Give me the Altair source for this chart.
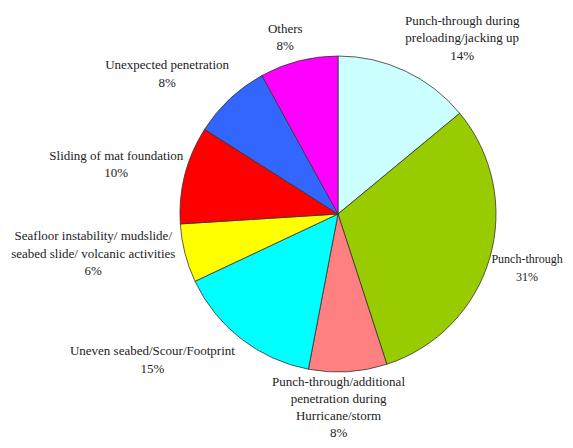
import altair as alt
import pandas as pd

categories = [
    "Punch-through during preloading/jacking up",
    "Punch-through",
    "Punch-through/additional penetration during Hurricane/storm",
    "Uneven seabed/Scour/Footprint",
    "Seafloor instability/ mudslide/ seabed slide/ volcanic activities",
    "Sliding of mat foundation",
    "Unexpected penetration",
    "Others",
]
label_text = [
    "Punch-through during\npreloading/jacking up",
    "Punch-through",
    "Punch-through/additional\npenetration during\nHurricane/storm",
    "Uneven seabed/Scour/Footprint",
    "Seafloor instability/ mudslide/\nseabed slide/ volcanic activities",
    "Sliding of mat foundation",
    "Unexpected penetration",
    "Others",
]
shares = [14, 31, 8, 15, 6, 10, 8, 8]
colors = ["#CCFFFF", "#99CC00", "#FF8080", "#00FFFF", "#FFFF00", "#FF0000", "#3366FF", "#FF00FF"]

df = pd.DataFrame({
    "idx": list(range(len(categories))),
    "category": categories,
    "share": shares,
    "label": [f"{t}\n{v}%" for t, v in zip(label_text, shares)],
})

theta = alt.Theta("share:Q", stack=True, scale=alt.Scale(domain=[0, 100]))
order = alt.Order("idx:Q", sort="ascending")

CX, CY = 330, 206
pie = alt.Chart(df).mark_arc(outerRadius=158, stroke="#333333", strokeWidth=0.8).encode(
    theta=theta,
    order=order,
    color=alt.Color("category:N", scale=alt.Scale(domain=categories, range=colors), legend=None),
    x=alt.value(CX),
    y=alt.value(CY),
)

LH = 17.5
# label nudges (dx, dy, line height, font size) of the block centre from the slice-midpoint anchor
nudges = [(39, 5, LH, 13), (-3, -2, LH, 12), (-12, -6, 17, 13), (-63, -12, LH, 13),
          (-51, -10, LH, 13), (-28, 0, LH, 13), (-34, 6, LH, 13), (-3, 17, LH, 13)]

texts = []
for i, (ddx, ddy, lh, fs) in enumerate(nudges):
    n_lines = df["label"][i].count("\n") + 1
    t = alt.Chart(df).mark_text(
        radius=200, dx=ddx, dy=ddy - (n_lines - 1) * lh / 2, lineBreak="\n",
        font="Liberation Serif, Times New Roman, DejaVu Serif, serif",
        fontSize=fs, lineHeight=lh, align="center", baseline="middle", color="#222222",
    ).encode(
        theta=theta,
        order=order,
        x=alt.value(CX),
        y=alt.value(CY),
        text=alt.condition(alt.datum.idx == i, "label:N", alt.value("")),
    )
    texts.append(t)

chart = alt.layer(pie, *texts).properties(
    width=557, height=432, padding=0,
    autosize=alt.AutoSizeParams(type="none"),
).configure_view(stroke=None)

chart.save("out.html", embed_options={"renderer": "svg", "actions": False})
